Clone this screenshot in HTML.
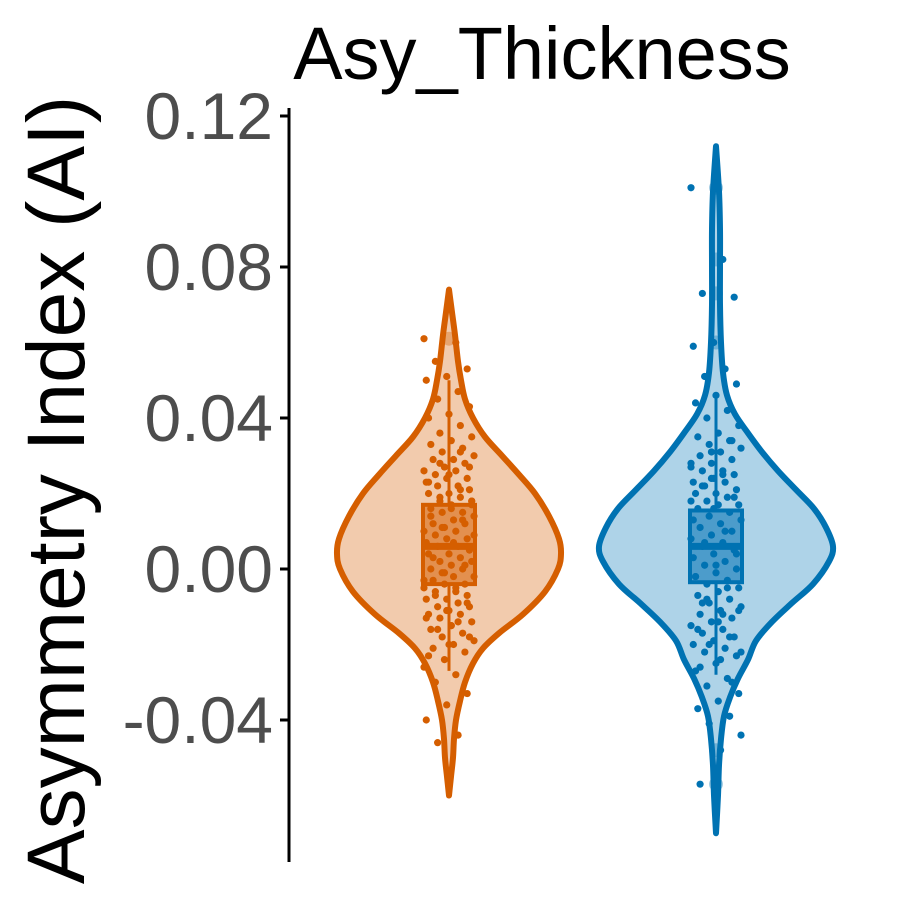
<!DOCTYPE html>
<html><head><meta charset="utf-8"><style>
body{margin:0;background:#fff}
svg{display:block;font-family:"Liberation Sans",Arial,sans-serif}
</style></head><body>
<svg id="chart" width="900" height="900" viewBox="0 0 900 900">
<rect width="900" height="900" fill="#fff"/>
<text x="542" y="79" font-size="74" text-anchor="middle" fill="#000">Asy_Thickness</text>
<text transform="translate(84,490) rotate(-90)" font-size="82" text-anchor="middle" fill="#000">Asymmetry Index (AI)</text>
<line x1="289" y1="108" x2="289" y2="862" stroke="#000" stroke-width="3"/>
<g id="ticks"></g>
<g id="plot"></g>
</svg>
<script>
const ticks=[0.12,0.08,0.04,0.00,-0.04];
const tickLabels=["0.12","0.08","0.04","0.00","-0.04"];
const groups=["Left","Right"];
const centers=[449,716];
const strokeColors=["#D55E00","#0072B2"];
const fillColors=["#F2CBAD","#AED3E8"];
const boxFill=["#E3904F","#4C9CCB"];
// violin density profiles: values and half-widths (density scaled)
const orangeVals=[0.074,0.068,0.062,0.055,0.050,0.045,0.040,0.035,0.030,0.025,0.020,0.014,0.008,0.004,0.000,-0.006,-0.012,-0.017,-0.021,-0.025,-0.030,-0.035,-0.040,-0.045,-0.050,-0.055,-0.060];
const orangeDens=[0,3,6,9,12,16,24,36,53,70,86,100,110,112,109,96,74,50,34,24,16,11,7,5,4,2,0];
const blueVals=[0.112,0.10,0.09,0.08,0.07,0.06,0.052,0.046,0.041,0.036,0.031,0.026,0.021,0.016,0.011,0.006,0.002,-0.004,-0.009,-0.014,-0.019,-0.024,-0.029,-0.034,-0.039,-0.045,-0.052,-0.060,-0.070];
const blueDens=[0,3,4,4,4,5,7,11,19,32,46,62,80,98,110,117,113,97,76,56,40,32,22,14,8,5,3,2,0];
// box stats: q1, median, q3, whisker low, whisker high
const orangeBox=[-0.004,0.006,0.017,-0.027,0.050];
const blueBox=[-0.0035,0.006,0.0155,-0.028,0.046];
const orangePts=[0.061,0.060,0.055,0.053,0.051,0.050,0.047,0.045,0.043,0.041,0.040,0.038,0.036,0.035,0.034,0.033,0.032,0.031,0.030,0.029,0.029,0.028,0.027,0.026,0.026,0.025,0.024,0.024,0.023,0.022,0.022,0.021,0.020,0.020,0.019,0.018,0.018,0.017,0.016,0.015,0.015,0.014,0.013,0.012,0.012,0.011,0.010,0.010,0.009,0.008,0.008,0.007,0.006,0.006,0.005,0.004,0.004,0.003,0.002,0.002,0.001,0.000,0.000,-0.001,-0.002,-0.002,-0.003,-0.004,-0.004,-0.005,-0.006,-0.006,-0.007,-0.008,-0.008,-0.009,-0.010,-0.010,-0.011,-0.012,-0.012,-0.013,-0.014,-0.015,-0.016,-0.017,-0.018,-0.019,-0.020,-0.021,-0.022,-0.024,-0.026,-0.028,-0.030,-0.033,-0.036,-0.040,-0.044,-0.046,0.027,0.025,0.023,0.021,0.019,0.017,0.016,0.014,0.013,0.011,0.009,0.007,0.003,0.001,-0.001,-0.003,-0.005,-0.007,-0.009,-0.011,-0.013,-0.014,-0.016,-0.018,-0.020,-0.023,0.031,0.028,0.018,-0.015];
const bluePts=[0.101,0.082,0.073,0.072,0.060,0.059,0.053,0.051,0.049,0.046,0.044,0.042,0.040,0.038,0.036,0.035,0.034,0.033,0.032,0.031,0.030,0.029,0.028,0.027,0.026,0.026,0.025,0.024,0.023,0.023,0.022,0.021,0.020,0.020,0.019,0.018,0.017,0.017,0.016,0.015,0.014,0.013,0.012,0.011,0.010,0.009,0.008,0.007,0.006,0.005,0.004,0.003,0.002,0.001,0.000,-0.001,-0.002,-0.003,-0.004,-0.005,-0.006,-0.007,-0.008,-0.009,-0.010,-0.011,-0.012,-0.013,-0.014,-0.015,-0.016,-0.017,-0.018,-0.019,-0.020,-0.021,-0.022,-0.023,-0.025,-0.027,-0.029,-0.031,-0.033,-0.035,-0.037,-0.039,-0.041,-0.044,-0.048,-0.057,0.034,0.031,0.028,0.025,0.022,0.019,0.016,0.013,0.010,0.007,0.004,0.001,-0.002,-0.005,-0.008,-0.011,-0.014,-0.016,-0.018,-0.020,-0.022,-0.024,-0.026,-0.030,0.024,0.018,-0.012,-0.009];
const outlierVals=[[0.061],[0.101,0.082,0.073,0.060,-0.048,-0.057]];

const NS="http://www.w3.org/2000/svg";
const y=v=>569-v*3775;
const tg=document.getElementById('ticks'), pg=document.getElementById('plot');
function mk(tag,attrs,parent){const e=document.createElementNS(NS,tag);for(const k in attrs)e.setAttribute(k,attrs[k]);parent.appendChild(e);return e;}
ticks.forEach((t,i)=>{
  const l=mk('line',{x1:280,x2:289,y1:y(t),y2:y(t),stroke:'#000','stroke-width':3},tg);
  
  
  const tx=mk('text',{x:273,y:y(t)+23,'font-size':66,'text-anchor':'end',fill:'#4D4D4D'},tg);
  tx.textContent=tickLabels[i];
  
  
});
function smoothPath(pts){
  let d=`M${pts[0][0]},${pts[0][1]}`;
  for(let i=0;i<pts.length-1;i++){
    const p0=pts[Math.max(0,i-1)],p1=pts[i],p2=pts[i+1],p3=pts[Math.min(pts.length-1,i+2)];
    const c1=[p1[0]+(p2[0]-p0[0])/6,p1[1]+(p2[1]-p0[1])/6],c2=[p2[0]-(p3[0]-p1[0])/6,p2[1]-(p3[1]-p1[1])/6];
    d+=` C${c1[0]},${c1[1]} ${c2[0]},${c2[1]} ${p2[0]},${p2[1]}`;
  }
  return d;
}
const sets=[[orangeVals,orangeDens,orangeBox,orangePts],[blueVals,blueDens,blueBox,bluePts]];
sets.forEach(([vals,dens,box,pts],g)=>{
  const cx=centers[g];
  const right=vals.map((v,i)=>[cx+dens[i],y(v)]);
  const left=vals.map((v,i)=>[cx-dens[i],y(v)]).reverse();
  const d=smoothPath(right)+' '+smoothPath(left).replace('M','L')+' Z';
  const vp=mk('path',{d:d,fill:fillColors[g],stroke:strokeColors[g],'stroke-width':6,'stroke-linejoin':'round'},pg);
  
  
  const wl=mk('line',{x1:cx,x2:cx,y1:y(box[4]),y2:y(box[0]),stroke:strokeColors[g],'stroke-width':3},pg);
  
  
  const wl2=mk('line',{x1:cx,x2:cx,y1:y(box[2]),y2:y(box[3]),stroke:strokeColors[g],'stroke-width':3},pg);
  
  
  const b=mk('rect',{x:cx-26,y:y(box[2]),width:52,height:y(box[0])-y(box[2]),fill:boxFill[g],stroke:strokeColors[g],'stroke-width':4},pg);
  
  
  pts.forEach((v,i)=>{
    const off=(((i*37)%23)-11)/11*25;
    const c=mk('circle',{cx:cx+off,cy:y(v),r:3.6,fill:strokeColors[g]},pg);
    
    
  });
  const med=mk('line',{x1:cx-26,x2:cx+26,y1:y(box[1]),y2:y(box[1]),stroke:strokeColors[g],'stroke-width':7},pg);
  
  
  outlierVals[g].forEach(v=>{
    const o=mk('circle',{cx:cx,cy:y(v),r:7,fill:strokeColors[g],'fill-opacity':0.35},pg);
    
    
  });
});
</script>
</body></html>
